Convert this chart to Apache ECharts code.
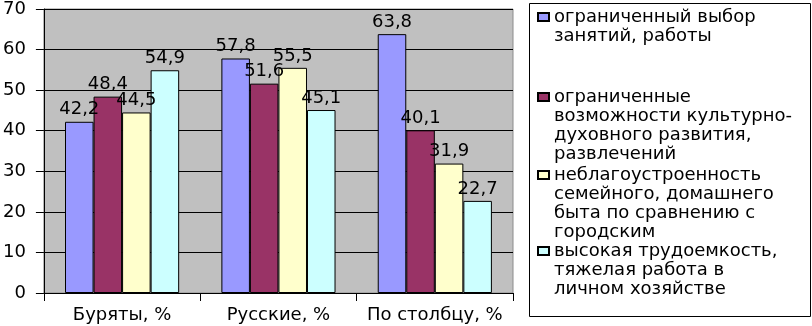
<!DOCTYPE html>
<html>

<head>
    <meta charset="utf-8">
    <script type="text/javascript" src="https://cdn.jsdelivr.net/npm/echarts@6/dist/echarts.min.js"></script>
    <title>ECharts</title>
    <style>
        body { margin: 0; background: #fff; }
    </style>
</head>

<body>
    <div id="container" style="width:812px;height:326px;"></div>
    <script type="text/javascript">
    // данные
    var categories = ['Буряты, %', 'Русские, %', 'По столбцу, %'];
    var yTicks = [0, 10, 20, 30, 40, 50, 60, 70];

    var names = [
        'ограниченный выбор\nзанятий, работы',
        'ограниченные\nвозможности культурно-\nдуховного развития,\nразвлечений',
        'неблагоустроенность\nсемейного, домашнего\nбыта по сравнению с\nгородским',
        'высокая трудоемкость,\nтяжелая работа в\nличном хозяйстве'
    ];
    var choice = [42.2, 57.8, 63.8];
    var culture = [48.4, 51.6, 40.1];
    var household = [44.5, 55.5, 31.9];
    var labour = [54.9, 45.1, 22.7];

    var seriesData = [choice, culture, household, labour];
    var colors = ['#9999FF', '#993366', '#FFFFCC', '#CCFFFF'];

    var font = 'DejaVu Sans';
    var fontSize = 18;
    var lineH = 19;

    var myChart = echarts.init(document.getElementById('container'));

    // серии
    var series = seriesData.map(function (d, i) {
        return {
            name: names[i],
            type: 'bar',
            data: d,
            barGap: '0%',
            barCategoryGap: '27%',
            itemStyle: { color: colors[i], borderColor: '#000', borderWidth: 1 },
            label: {
                show: true,
                position: 'top',
                distance: 3,
                color: '#000',
                fontFamily: font,
                fontSize: fontSize,
                formatter: function (p) { return String(p.value).replace('.', ','); }
            }
        };
    });

    // легенда: отдельный блок на каждую запись,
    // пустые строки сверху, чтобы иконка стояла у первой строки
    var firstLine = [17, 97, 175, 251];
    var legends = names.map(function (n, i) {
        var lines = n.split('\n').length;
        var pad = new Array(lines).join('\n');
        return {
            data: [n],
            left: 537,
            top: firstLine[i] - (2 * lines - 1) * lineH / 2,
            orient: 'vertical',
            padding: 0,
            itemWidth: 11,
            itemHeight: 8,
            selectedMode: false,
            icon: 'rect',
            formatter: function (name) { return pad + name; },
            textStyle: {
                color: '#000',
                fontFamily: font,
                fontSize: fontSize,
                lineHeight: lineH
            }
        };
    });

    var option = {
        animation: false,
        backgroundColor: '#fff',
        color: colors,
        grid: {
            left: 43,
            right: 299,
            top: 6,
            bottom: 33,
            show: true,
            backgroundColor: '#C0C0C0',
            borderColor: '#8c8c8c',
            borderWidth: 1
        },
        legend: legends,
        graphic: [{
            type: 'rect',
            shape: { x: 529.5, y: 3.5, width: 281, height: 313 },
            style: { fill: 'none', stroke: '#000', lineWidth: 1 },
            z: 1
        }],
        xAxis: {
            type: 'category',
            data: categories,
            axisLine: { lineStyle: { color: '#000', width: 1 } },
            axisTick: { show: true, length: 8, alignWithLabel: false, lineStyle: { color: '#000' } },
            axisLabel: { interval: 0, color: '#000', fontFamily: font, fontSize: fontSize, margin: 13 }
        },
        yAxis: {
            type: 'value',
            min: yTicks[0],
            max: yTicks[yTicks.length - 1],
            interval: yTicks[1] - yTicks[0],
            axisLine: { show: true, lineStyle: { color: '#000', width: 1 } },
            axisTick: { show: true, length: 8, lineStyle: { color: '#000' } },
            axisLabel: { color: '#000', fontFamily: font, fontSize: fontSize, margin: 18 },
            splitLine: { show: true, lineStyle: { color: '#000', width: 1 } }
        },
        series: series
    };

    myChart.setOption(option);
    </script>
</body>

</html>
